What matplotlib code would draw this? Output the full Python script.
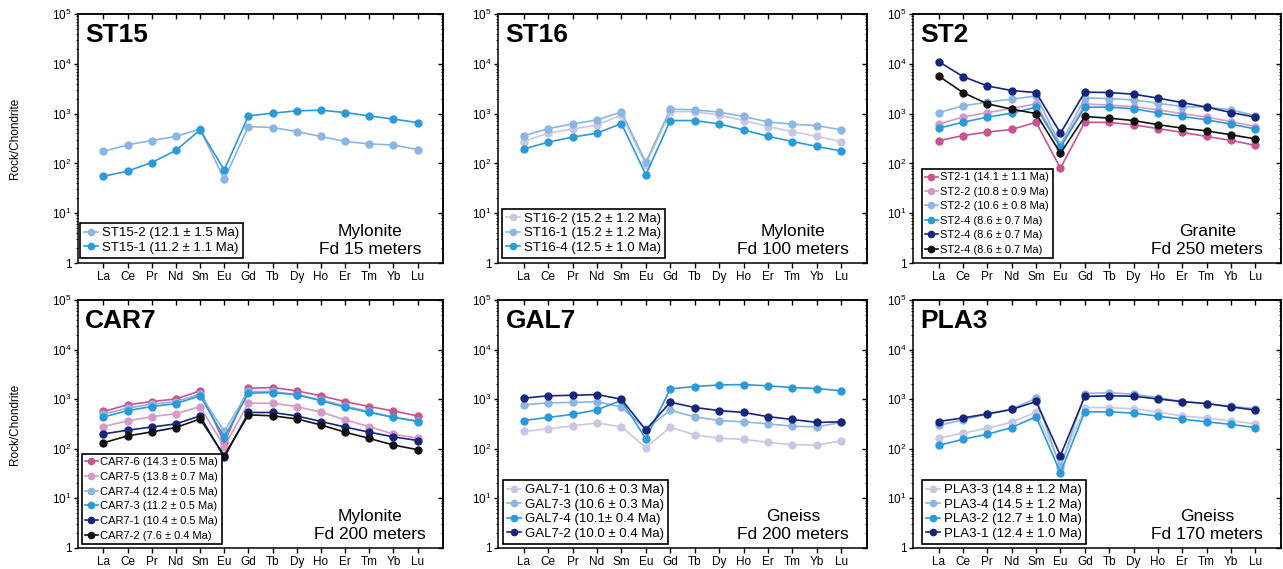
import matplotlib
matplotlib.use("Agg")
import matplotlib.pyplot as plt
from matplotlib.ticker import FixedLocator, FixedFormatter, LogLocator, NullFormatter

plt.rcParams['font.family'] = ['Liberation Sans', 'DejaVu Sans']
plt.rcParams['mathtext.fontset'] = 'custom'
plt.rcParams['mathtext.rm'] = 'Liberation Sans'
plt.rcParams['mathtext.default'] = 'regular'

elements = ['La', 'Ce', 'Pr', 'Nd', 'Sm', 'Eu', 'Gd', 'Tb', 'Dy', 'Ho', 'Er', 'Tm', 'Yb', 'Lu']

# colours
lavender = '#c9c8e2'
lightblue = '#8cb5e2'
blue = '#2c9ad8'
navy = '#17267a'
black = '#111111'
magenta = '#c8558e'
pink = '#d69ac9'

# ST15 - Mylonite, Fd 15 meters
st15_2 = [174, 236, 288, 347, 490, 48, 550, 525, 436, 347, 276, 247, 233, 190]
st15_1 = [55, 70, 104, 182, 470, 74, 900, 1020, 1135, 1170, 1050, 900, 775, 660]

# ST16 - Mylonite, Fd 100 meters
st16_2 = [275, 405, 490, 590, 935, 94, 1095, 1095, 935, 725, 550, 436, 347, 275]
st16_1 = [357, 500, 620, 745, 1080, 106, 1230, 1190, 1070, 875, 680, 610, 575, 470]
st16_4 = [194, 267, 337, 405, 630, 59, 725, 725, 620, 470, 350, 275, 219, 177]

# ST2 - Granite, Fd 250 meters
st2_1 = [285, 362, 425, 480, 670, 80, 670, 665, 595, 500, 420, 347, 290, 230]
st2_2 = [620, 850, 1050, 1260, 1570, 210, 1570, 1480, 1380, 1190, 1000, 850, 690, 550]
st2_2b = [1050, 1430, 1700, 1950, 2260, 235, 2070, 2000, 1880, 1620, 1380, 1350, 1190, 910]
st2_4 = [510, 670, 850, 1020, 1350, 210, 1350, 1350, 1250, 1035, 875, 750, 615, 490]
st2_4b = [11100, 5550, 3600, 2900, 2650, 405, 2700, 2650, 2450, 2050, 1660, 1350, 1050, 850]
st2_4c = [5700, 2650, 1570, 1230, 1000, 160, 875, 810, 725, 600, 510, 450, 375, 310]

# CAR7 - Mylonite, Fd 200 meters
car7_6 = [565, 770, 895, 1010, 1475, 135, 1660, 1720, 1475, 1170, 895, 710, 580, 460]
car7_5 = [280, 365, 445, 510, 710, 111, 830, 830, 710, 550, 385, 280, 197, 164]
car7_4 = [500, 660, 790, 895, 1260, 224, 1430, 1430, 1230, 975, 725, 565, 435, 365]
car7_3 = [435, 590, 710, 815, 1170, 170, 1320, 1360, 1230, 930, 690, 540, 430, 355]
car7_1 = [200, 237, 275, 318, 460, 67, 540, 540, 460, 355, 275, 216, 174, 147]
car7_2 = [132, 182, 219, 268, 400, 73, 484, 462, 400, 303, 216, 162, 119, 96]

# GAL7 - Gneiss, Fd 200 meters
gal7_1 = [224, 253, 289, 333, 277, 106, 272, 191, 164, 155, 135, 121, 119, 145]
gal7_3 = [770, 845, 860, 895, 690, 250, 600, 440, 372, 350, 318, 286, 277, 340]
gal7_4 = [372, 428, 495, 610, 950, 159, 1620, 1800, 1940, 1970, 1860, 1720, 1640, 1480]
gal7_2 = [1050, 1170, 1200, 1240, 1000, 240, 870, 680, 590, 540, 445, 390, 340, 350]

# PLA3 - Gneiss, Fd 170 meters
pla3_3 = [164, 207, 260, 343, 550, 48, 680, 680, 640, 550, 460, 415, 367, 318]
pla3_4 = [295, 385, 500, 630, 1050, 42, 1300, 1350, 1260, 1080, 895, 815, 720, 640]
pla3_2 = [117, 155, 197, 268, 445, 33, 556, 556, 525, 455, 395, 350, 310, 268]
pla3_1 = [355, 420, 505, 620, 900, 73, 1135, 1170, 1150, 1010, 895, 815, 700, 600]

panels = [
    dict(name='ST15', rock='Mylonite', fd='Fd 15 meters', fs=9.5, ls=0.18,
         series=[(st15_2, lightblue, 'ST15-2 (12.1 ± 1.5 Ma)'),
                 (st15_1, blue, 'ST15-1 (11.2 ± 1.1 Ma)')]),
    dict(name='ST16', rock='Mylonite', fd='Fd 100 meters', fs=9.5, ls=0.18,
         series=[(st16_2, lavender, 'ST16-2 (15.2 ± 1.2 Ma)'),
                 (st16_1, lightblue, 'ST16-1 (15.2 ± 1.2 Ma)'),
                 (st16_4, blue, 'ST16-4 (12.5 ± 1.0 Ma)')]),
    dict(name='ST2', rock='Granite', fd='Fd 250 meters', fs=8, ls=0.4,
         series=[(st2_1, magenta, 'ST2-1 (14.1 ± 1.1 Ma)'),
                 (st2_2, pink, 'ST2-2 (10.8 ± 0.9 Ma)'),
                 (st2_2b, lightblue, 'ST2-2 (10.6 ± 0.8 Ma)'),
                 (st2_4, blue, 'ST2-4 (8.6 ± 0.7 Ma)'),
                 (st2_4b, navy, 'ST2-4 (8.6 ± 0.7 Ma)'),
                 (st2_4c, black, 'ST2-4 (8.6 ± 0.7 Ma)')]),
    dict(name='CAR7', rock='Mylonite', fd='Fd 200 meters', fs=8, ls=0.42,
         series=[(car7_6, magenta, 'CAR7-6 (14.3 ± 0.5 Ma)'),
                 (car7_5, pink, 'CAR7-5 (13.8 ± 0.7 Ma)'),
                 (car7_4, lightblue, 'CAR7-4 (12.4 ± 0.5 Ma)'),
                 (car7_3, blue, 'CAR7-3 (11.2 ± 0.5 Ma)'),
                 (car7_1, navy, 'CAR7-1 (10.4 ± 0.5 Ma)'),
                 (car7_2, black, 'CAR7-2 (7.6 ± 0.4 Ma)')]),
    dict(name='GAL7', rock='Gneiss', fd='Fd 200 meters', fs=9.5, ls=0.18,
         series=[(gal7_1, lavender, 'GAL7-1 (10.6 ± 0.3 Ma)'),
                 (gal7_3, lightblue, 'GAL7-3 (10.6 ± 0.3 Ma)'),
                 (gal7_4, blue, 'GAL7-4 (10.1± 0.4 Ma)'),
                 (gal7_2, navy, 'GAL7-2 (10.0 ± 0.4 Ma)')]),
    dict(name='PLA3', rock='Gneiss', fd='Fd 170 meters', fs=9.5, ls=0.18,
         series=[(pla3_3, lavender, 'PLA3-3 (14.8 ± 1.2 Ma)'),
                 (pla3_4, lightblue, 'PLA3-4 (14.5 ± 1.2 Ma)'),
                 (pla3_2, blue, 'PLA3-2 (12.7 ± 1.0 Ma)'),
                 (pla3_1, navy, 'PLA3-1 (12.4 ± 1.0 Ma)')]),
]

W, H = 1283, 569
fig = plt.figure(figsize=(W / 100, H / 100), dpi=100)

# axes boxes in pixels: left, top, right, bottom
cols = [(78, 443), (498, 867), (913, 1281)]
rows = [(14, 263), (300, 548)]
# legend offsets from axes corner (px)
leg_off = [(2, 5), (4, 5), (9, 5), (4, 4), (5, 4), (9, 4)]

x = list(range(len(elements)))

for i, p in enumerate(panels):
    l, r = cols[i % 3]
    t, b = rows[i // 3]
    ax = fig.add_axes([l / W, 1 - b / H, (r - l) / W, (b - t) / H])
    for vals, col, lab in p['series']:
        ax.plot(x, vals, '-o', color=col, lw=1.2, ms=5, label=lab)
    ax.set_yscale('log')
    ax.set_ylim(1, 1e5)
    ax.set_xlim(-1.05, 14.05)
    ax.set_xticks(x)
    ax.set_xticklabels(elements, fontsize=8.5)
    ax.yaxis.set_major_locator(FixedLocator([1, 10, 100, 1e3, 1e4, 1e5]))
    ax.yaxis.set_major_formatter(FixedFormatter(['1', '$10^1$', '$10^2$', '$10^3$', '$10^4$', '$10^5$']))
    ax.yaxis.set_minor_locator(LogLocator(base=10, subs=range(2, 10), numticks=20))
    ax.yaxis.set_minor_formatter(NullFormatter())
    ax.tick_params(axis='y', which='major', length=3, width=1, labelsize=8.5, pad=1.5)
    ax.tick_params(axis='y', which='minor', length=1.8, width=0.7)
    ax.tick_params(axis='x', length=3.5, width=1, pad=2)
    for s in ax.spines.values():
        s.set_linewidth(1.1)

    # mirrored ticks pointing inward on top and right
    sy = ax.secondary_yaxis('right')
    sy.yaxis.set_major_locator(FixedLocator([1, 10, 100, 1e3, 1e4, 1e5]))
    sy.yaxis.set_minor_locator(LogLocator(base=10, subs=range(2, 10), numticks=20))
    sy.yaxis.set_major_formatter(NullFormatter())
    sy.yaxis.set_minor_formatter(NullFormatter())
    sy.tick_params(which='major', direction='in', length=3.5, width=1)
    sy.tick_params(which='minor', direction='in', length=1.8, width=0.7)
    sy.spines['right'].set_linewidth(1.1)
    sx = ax.secondary_xaxis('top')
    sx.set_xticks(x)
    sx.xaxis.set_major_formatter(NullFormatter())
    sx.tick_params(direction='in', length=3.5, width=1)
    sx.spines['top'].set_linewidth(1.1)

    ax.text(0.02, 0.965, p['name'], transform=ax.transAxes, fontsize=19,
            fontweight='bold', ha='left', va='top')
    ax.text(0.80, 0.025, p['rock'] + '\n' + p['fd'], transform=ax.transAxes,
            fontsize=12.5, ha='center', va='bottom', multialignment='center',
            linespacing=1.2)

    dx, dy = leg_off[i]
    leg = ax.legend(loc='lower left', bbox_to_anchor=(dx / (r - l), dy / (b - t)),
                    borderaxespad=0, fontsize=p['fs'], handlelength=1.1,
                    handletextpad=0.25, labelspacing=p['ls'], borderpad=0.3,
                    fancybox=False, framealpha=1, edgecolor='black',
                    markerscale=0.9)
    leg.get_frame().set_linewidth(1.2)

    if i % 3 == 0:
        fig.text(15 / W, 1 - (t + b) / 2 / H, 'Rock/Chondrite', rotation=90,
                 fontsize=8.5, ha='center', va='center')

fig.savefig('out.png', dpi=100)
